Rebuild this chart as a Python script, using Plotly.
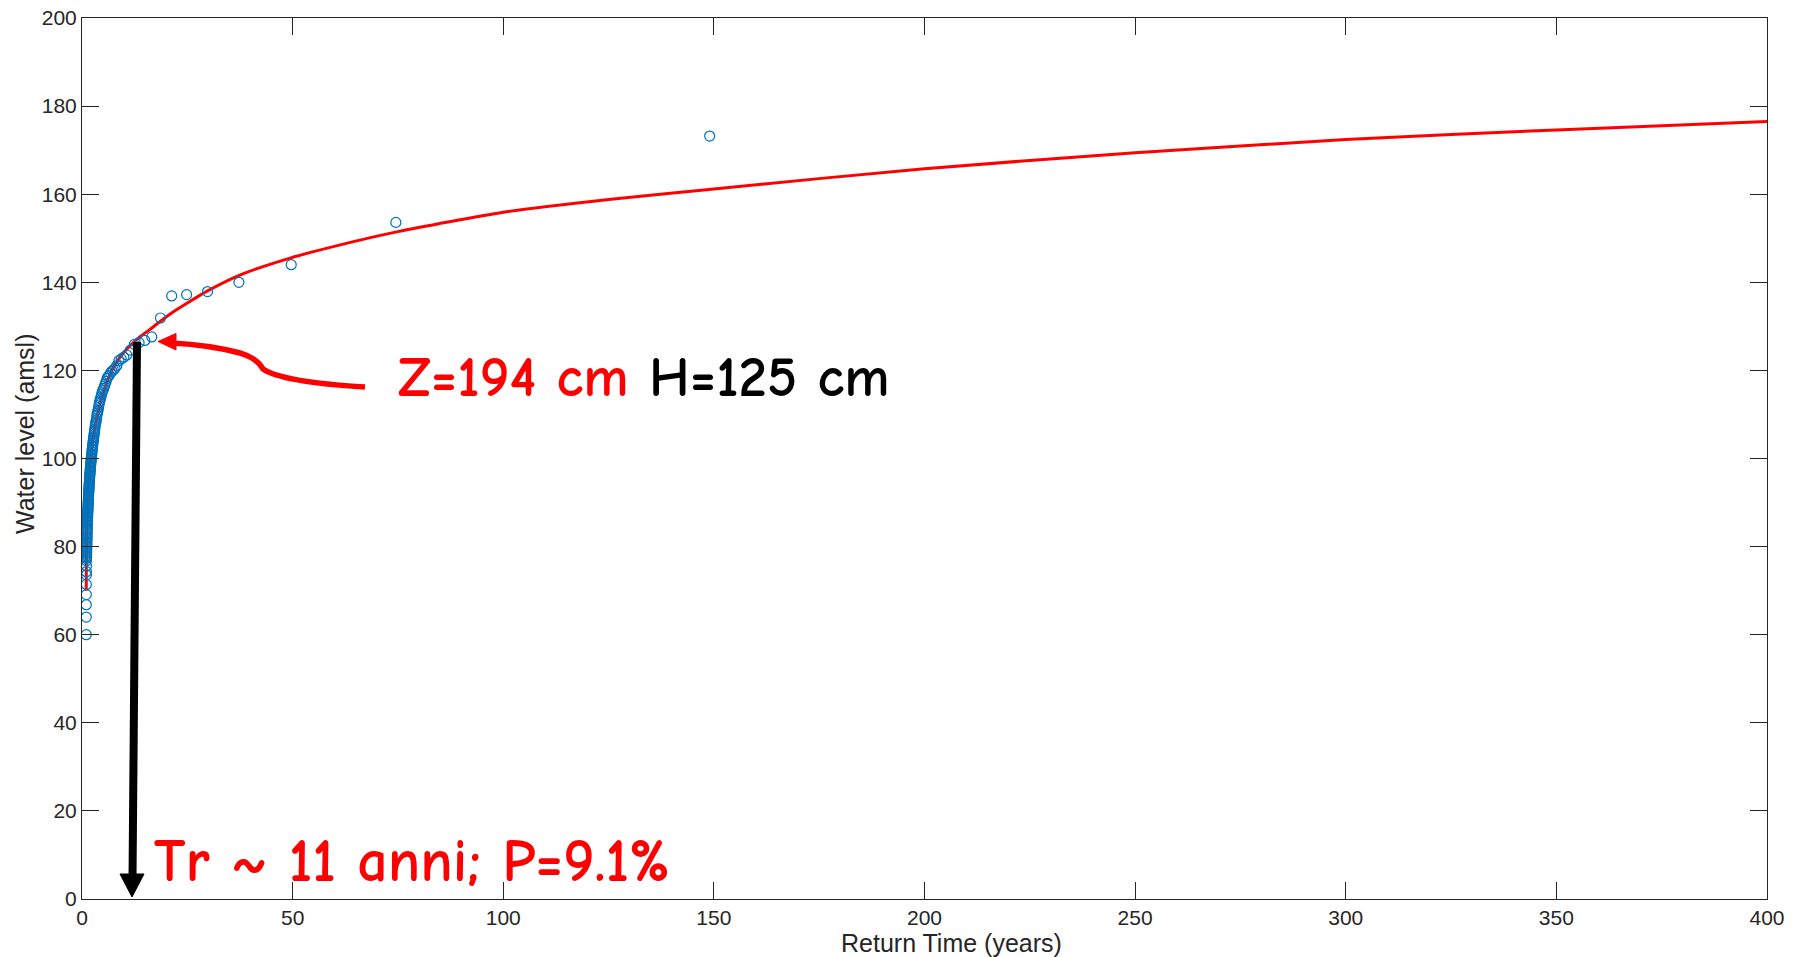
import plotly.graph_objects as go

# ---- data ----
return_time = [149.0, 74.5, 49.67, 37.25, 29.8, 24.83, 21.29, 18.63, 16.56, 14.9,
               13.55, 12.42, 11.46, 10.64, 9.93, 9.31, 8.76, 8.28, 7.84, 7.45,
               7.10, 6.77, 6.48, 6.21, 5.96, 5.73, 5.52, 5.32, 5.14, 4.97,
               4.81, 4.66, 4.52, 4.38, 4.26, 4.14, 4.03, 3.92, 3.82, 3.73,
               3.63, 3.55, 3.47, 3.39, 3.31, 3.24, 3.17, 3.10, 3.04, 2.98,
               2.92, 2.87, 2.81, 2.76, 2.71, 2.66, 2.61, 2.57, 2.53, 2.48,
               2.44, 2.40, 2.37, 2.33, 2.29, 2.26, 2.22, 2.19, 2.16, 2.13,
               2.10, 2.07, 2.04, 2.01, 1.99, 1.96, 1.94, 1.91, 1.89, 1.86,
               1.84, 1.82, 1.80, 1.77, 1.75, 1.73, 1.71, 1.69, 1.67, 1.66,
               1.64, 1.62, 1.60, 1.59, 1.57, 1.55, 1.54, 1.52, 1.51, 1.49,
               1.475, 1.461, 1.447, 1.433, 1.419, 1.406, 1.393, 1.380, 1.367, 1.355,
               1.342, 1.330, 1.319, 1.307, 1.296, 1.284, 1.274, 1.263, 1.252, 1.242,
               1.231, 1.221, 1.211, 1.202, 1.192, 1.183, 1.173, 1.164, 1.155, 1.146,
               1.137, 1.129, 1.120, 1.112, 1.104, 1.096, 1.088, 1.080, 1.072, 1.064,
               1.057, 1.049, 1.042, 1.035, 1.028, 1.021, 1.014, 1.007]
water_level = [173.2, 153.6, 144.0, 140.0, 137.9, 137.2, 136.9, 131.9, 127.6, 126.8,
               126.3, 125.9, 124.6, 123.5, 123.0, 122.6, 122.2, 121.1, 120.5, 120.1,
               119.8, 119.4, 118.9, 118.6, 118.2, 117.5, 116.9, 116.4, 115.9, 115.5,
               115.1, 114.6, 114.0, 113.6, 113.1, 112.7, 112.2, 111.6, 111.0, 110.6,
               110.2, 109.8, 109.2, 108.7, 108.3, 108.0, 107.6, 107.1, 106.6, 106.2,
               105.9, 105.5, 105.0, 104.7, 104.3, 104.0, 103.6, 103.2, 102.9, 102.6,
               102.2, 101.9, 101.5, 101.1, 100.8, 100.5, 100.2, 99.9, 99.6, 99.3,
               99.0, 98.7, 98.4, 98.1, 97.8, 97.5, 97.2, 96.9, 96.6, 96.3,
               96.0, 95.7, 95.4, 95.1, 94.8, 94.5, 94.2, 93.9, 93.6, 93.3,
               93.0, 92.7, 92.4, 92.1, 91.8, 91.5, 91.2, 90.9, 90.6, 90.3,
               90.0, 89.7, 89.4, 89.1, 88.8, 88.5, 88.2, 87.9, 87.6, 87.3,
               87.0, 86.7, 86.4, 86.1, 85.8, 85.6, 85.3, 85.0, 84.6, 84.2,
               83.9, 83.5, 83.1, 82.7, 82.3, 82.0, 81.6, 81.2, 80.8, 80.5,
               80.1, 79.7, 79.3, 78.9, 78.5, 78.2, 77.9, 77.6, 77.3, 76.8,
               75.6, 74.3, 73.6, 71.4, 69.1, 66.8, 64.0, 60.0]

fit_time = [1.005, 1.02, 1.05, 1.1, 1.2, 1.3, 1.42, 1.6, 1.8, 2.2, 2.6, 3.0, 3.8, 4.5,
            5.4, 6.6, 8.0, 9.5, 11, 12.5, 14, 16, 18, 21.7, 25, 29.7, 37.6, 49.4,
            61.3, 75, 100, 125, 150, 200, 250, 300, 350, 400]
fit_level = [70.0, 74.5, 78.5, 82.5, 86.0, 88.5, 91.2, 94.5, 97.3, 101.3, 104.3, 106.7,
             110.4, 113.2, 116.0, 119.0, 121.5, 123.6, 125.2, 126.6, 127.8, 129.2, 130.7,
             133.3, 135.3, 138.0, 141.7, 145.5, 148.5, 151.5, 155.9, 158.8, 161.2, 165.8,
             169.4, 172.4, 174.6, 176.5]

x_ticks = [0, 50, 100, 150, 200, 250, 300, 350, 400]
y_ticks = [0, 20, 40, 60, 80, 100, 120, 140, 160, 180, 200]

# ---- layout geometry (pixels; page body margin removed by post_script) ----
W, H = 1801, 957
L, R, T = 82, 34, 18
PW, PH = 1685, 881
B = H - T - PH


def dx(px):
    return (px - L) / PW * 400.0


def dy(py):
    return (T + PH - py) / PH * 200.0


def px_paper(px):
    return (px - L) / PW


def py_paper(py):
    return (T + PH - py) / PH


axis_col = "#262626"
label_font = "Liberation Sans, Arial, sans-serif"
fig = go.Figure()

fig.add_trace(go.Scatter(x=fit_time, y=fit_level, mode="lines",
                         line=dict(color="#ff0000", width=3, shape="spline", smoothing=0.6),
                         hoverinfo="skip", showlegend=False))
fig.add_trace(go.Scatter(x=return_time, y=water_level, mode="markers",
                         marker=dict(symbol="circle-open", size=10, color="#0072BD",
                                     line=dict(width=1.2, color="#0072BD")),
                         showlegend=False))

# black vertical arrow
fig.add_shape(type="line", xref="x", yref="y",
              x0=dx(137), y0=dy(342), x1=dx(132.5), y1=dy(880),
              line=dict(color="black", width=8))
tip_x, tip_y = 132, 897
fig.add_shape(type="path", xref="x", yref="y",
              path=f"M {dx(tip_x)},{dy(tip_y)} L {dx(tip_x-12)},{dy(tip_y-23)} "
                   f"L {dx(tip_x+12)},{dy(tip_y-23)} Z",
              fillcolor="black", line=dict(color="black", width=1))

# red curved arrow
fig.add_shape(type="path", xref="x", yref="y",
              path=(f"M {dx(365)},{dy(387)} Q {dx(282)},{dy(382)} {dx(263)},{dy(369)} "
                    f"Q {dx(257)},{dy(358)} {dx(240)},{dy(353)} "
                    f"Q {dx(210)},{dy(345)} {dx(172)},{dy(343)}"),
              line=dict(color="#ff0000", width=5.5))
fig.add_shape(type="path", xref="x", yref="y",
              path=(f"M {dx(158)},{dy(341.5)} L {dx(176)},{dy(333.5)} "
                    f"L {dx(176)},{dy(350)} Z"),
              fillcolor="#ff0000", line=dict(color="#ff0000", width=1))

ann_font = "Comic Sans MS, Comic Neue, Lato, sans-serif"
fig.add_annotation(x=dx(396), y=dy(377), xref="x", yref="y", xanchor="left", yanchor="middle",
                   showarrow=False,
                   text="<b><span style='color:#ff0000'>Z=194 cm</span> H=125 cm</b>",
                   font=dict(family=ann_font, size=57, color="black"))
fig.add_annotation(x=dx(152), y=dy(861), xref="x", yref="y", xanchor="left", yanchor="middle",
                   showarrow=False,
                   text="<b>Tr ~ 11 anni; P=9.1%</b>",
                   font=dict(family=ann_font, size=60, color="#ff0000"))

# axis titles
fig.add_annotation(x=px_paper(951), y=py_paper(943), xref="paper", yref="paper",
                   xanchor="center", yanchor="middle", showarrow=False,
                   text="Return Time (years)",
                   font=dict(family=label_font, size=25, color=axis_col))
fig.add_annotation(x=px_paper(25), y=py_paper(434), xref="paper", yref="paper",
                   xanchor="center", yanchor="middle", showarrow=False, textangle=-90,
                   text="Water level (amsl)",
                   font=dict(family=label_font, size=25, color=axis_col))

axis_common = dict(showline=True, linecolor=axis_col, linewidth=1, mirror="ticks",
                   ticks="inside", ticklen=17, tickwidth=1, tickcolor=axis_col,
                   showgrid=False, zeroline=False, ticklabeloverflow="allow",
                   tickfont=dict(family=label_font, size=21, color=axis_col))

fig.update_xaxes(range=[0, 400], tickvals=x_ticks, ticktext=[str(v) for v in x_ticks],
                 **axis_common)
fig.update_yaxes(range=[0, 200], tickvals=y_ticks, ticktext=[str(v) for v in y_ticks],
                 **axis_common)

fig.update_layout(width=W, height=H, margin=dict(l=L, r=R, t=T, b=B, autoexpand=False),
                  plot_bgcolor="white", paper_bgcolor="white", showlegend=False)

fig.write_html("out.html",
               config={"displayModeBar": False},
               post_script="document.body.style.margin='0';"
                           "document.body.style.overflow='hidden';"
                           "document.documentElement.style.overflow='hidden';")
